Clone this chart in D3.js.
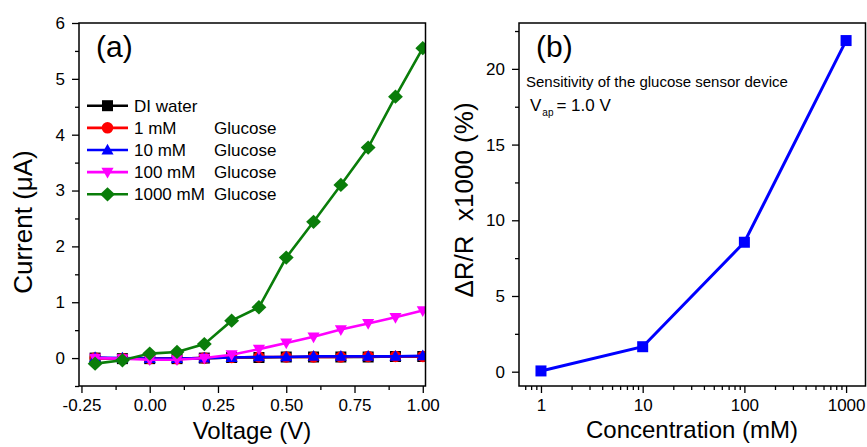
<!DOCTYPE html>
<html lang="en">
<head>
<meta charset="UTF-8" />
<title>Glucose sensor I-V and sensitivity</title>
<script src="https://d3js.org/d3.v7.min.js"></script>
<style>
    body { margin: 0; background: #fff; }
    svg { display: block; font-family: 'Liberation Sans', Arial, sans-serif; }
    .axis .domain { display: none; }
    .axis text { font-size: 17px; fill: #000; }
    .axis line { stroke: #000; stroke-width: 1.3px; }
</style>
</head>
<body>
<svg width="867" height="447"></svg>
<script>

// ---- panel (a) data : current vs voltage ----
var voltage  = [-0.2, -0.1, 0, 0.1, 0.2, 0.3, 0.4, 0.5, 0.6, 0.7, 0.8, 0.9, 1.0];
var diWater  = [0.00, -0.01, -0.01, -0.01, 0.00, 0.01, 0.01, 0.02, 0.02, 0.02, 0.02, 0.03, 0.03];
var glu1     = [0.00, -0.01, -0.01, -0.01, 0.00, 0.01, 0.02, 0.02, 0.02, 0.02, 0.03, 0.03, 0.03];
var glu10    = [0.01, 0.00, -0.01, -0.01, 0.00, 0.01, 0.02, 0.02, 0.03, 0.03, 0.03, 0.03, 0.04];
var glu100   = [0.00, -0.01, -0.03, -0.03, 0.00, 0.06, 0.16, 0.27, 0.38, 0.51, 0.62, 0.73, 0.85];
var glu1000  = [-0.10, -0.04, 0.08, 0.11, 0.25, 0.67, 0.91, 1.80, 2.44, 3.10, 3.77, 4.68, 5.55];

var seriesNames = ["DI water", "1 mM", "10 mM", "100 mM", "1000 mM"];
var seriesColors = ["#000000", "#ff0000", "#0000ff", "#ff00ff", "#0a7d0a"];
var seriesShapes = ["square", "circle", "triangle", "triangleDown", "diamond"];
var seriesValues = [diWater, glu1, glu10, glu100, glu1000];

var voltTicks = [-0.25, 0, 0.25, 0.5, 0.75, 1.0];
var currTicks = [0, 1, 2, 3, 4, 5, 6];

// ---- panel (b) data : sensitivity vs concentration ----
var concentration = [1, 10, 100, 1000];
var sensitivity   = [0.05, 1.65, 8.55, 21.87];
var concTicks = [1, 10, 100, 1000];
var sensTicks = [0, 5, 10, 15, 20];

var svg = d3.select("svg");

// plain hyphen instead of the unicode minus d3.format gives
function fmt2(d) { return d.toFixed(2); }

// shape generators
function symbolPath(shape, size) {
    var s = size;
    if (shape == "square") return "M" + (-s) + "," + (-s) + "H" + s + "V" + s + "H" + (-s) + "Z";
    if (shape == "circle") return d3.symbol().type(d3.symbolCircle).size(Math.PI * s * s * 1.1)();
    if (shape == "triangle") return "M0," + (-s * 1.15) + "L" + (s * 1.1) + "," + (s * 0.8) + "L" + (-s * 1.1) + "," + (s * 0.8) + "Z";
    if (shape == "triangleDown") return "M0," + (s * 1.15) + "L" + (s * 1.1) + "," + (-s * 0.8) + "L" + (-s * 1.1) + "," + (-s * 0.8) + "Z";
    if (shape == "diamond") return "M0," + (-s * 1.3) + "L" + (s * 1.35) + ",0L0," + (s * 1.3) + "L" + (-s * 1.35) + ",0Z";
}

// ================= panel (a) =================
var xa = d3.scaleLinear().domain([-0.259, 1.01]).range([79, 425.5]);
var ya = d3.scaleLinear().domain([-0.5, 6]).range([386, 23]);

var ga = svg.append("g");

// minor ticks
ga.append("g").attr("class", "axis")
    .attr("transform", "translate(0,386)")
    .call(d3.axisBottom(xa).tickValues([-0.125, 0.125, 0.375, 0.625, 0.875]).tickSize(4).tickFormat(""));
ga.append("g").attr("class", "axis")
    .attr("transform", "translate(79,0)")
    .call(d3.axisLeft(ya).tickValues([-0.5, 0.5, 1.5, 2.5, 3.5, 4.5, 5.5]).tickSize(4).tickFormat(""));

// major ticks
ga.append("g").attr("class", "axis")
    .attr("transform", "translate(0,386)")
    .call(d3.axisBottom(xa).tickValues(voltTicks).tickSize(7).tickPadding(6).tickFormat(fmt2));
ga.append("g").attr("class", "axis")
    .attr("transform", "translate(79,0)")
    .call(d3.axisLeft(ya).tickValues(currTicks).tickSize(7).tickPadding(7).tickFormat(d3.format("d")));

svg.append("clipPath").attr("id", "clipA")
    .append("rect").attr("x", 79).attr("y", 23).attr("width", 346.5).attr("height", 363);

var lineA = d3.line()
    .x(function(d) { return xa(d[0]); })
    .y(function(d) { return ya(d[1]); });

var plotA = ga.append("g").attr("clip-path", "url(#clipA)");
seriesValues.forEach(function(vals, i) {
    var pts = voltage.map(function(v, j) { return [v, vals[j]]; });
    plotA.append("path")
        .attr("d", lineA(pts))
        .attr("fill", "none")
        .attr("stroke", seriesColors[i])
        .attr("stroke-width", 2.6);
    plotA.selectAll(null)
        .data(pts)
        .enter().append("path")
        .attr("transform", function(d) { return "translate(" + xa(d[0]) + "," + ya(d[1]) + ")"; })
        .attr("d", symbolPath(seriesShapes[i], 5.5))
        .attr("fill", seriesColors[i]);
});

ga.append("rect")
    .attr("x", 79).attr("y", 23).attr("width", 346.5).attr("height", 363)
    .attr("fill", "none").attr("stroke", "#000").attr("stroke-width", 1.5);

// legend
var legend = ga.append("g");
seriesNames.forEach(function(name, i) {
    var ly = 105.7 + i * 22.15;
    legend.append("line")
        .attr("x1", 87).attr("x2", 128).attr("y1", ly).attr("y2", ly)
        .attr("stroke", seriesColors[i]).attr("stroke-width", 2.6);
    legend.append("path")
        .attr("transform", "translate(107.5," + ly + ")")
        .attr("d", symbolPath(seriesShapes[i], 5.5))
        .attr("fill", seriesColors[i]);
    legend.append("text")
        .attr("x", 134).attr("y", ly + 6)
        .attr("font-size", 17)
        .text(name);
    if (i > 0) {
        legend.append("text")
            .attr("x", 214).attr("y", ly + 6)
            .attr("font-size", 17)
            .text("Glucose");
    }
});

ga.append("text").attr("x", 96).attr("y", 57).attr("font-size", 30).text("(a)");

ga.append("text")
    .attr("x", 252).attr("y", 439)
    .attr("text-anchor", "middle").attr("font-size", 24)
    .text("Voltage (V)");
ga.append("text")
    .attr("transform", "translate(32,222) rotate(-90)")
    .attr("text-anchor", "middle").attr("font-size", 26)
    .text("Current (\u03bcA)");

// ================= panel (b) =================
var xb = d3.scaleLog().domain([0.608, 1552]).range([519, 865.5]);
var yb = d3.scaleLinear().domain([-0.945, 23.03]).range([386, 23]);

var gb = svg.append("g");

var minorLog = [];
[0.1, 1, 10, 100, 1000].forEach(function(dec) {
    for (var k = 2; k <= 9; k++) {
        var v = dec * k;
        if (v >= 0.608 && v <= 1552) minorLog.push(v);
    }
});

gb.append("g").attr("class", "axis")
    .attr("transform", "translate(0,386)")
    .call(d3.axisBottom(xb).tickValues(minorLog).tickSize(4).tickFormat(""));
gb.append("g").attr("class", "axis")
    .attr("transform", "translate(519,0)")
    .call(d3.axisLeft(yb).tickValues([2.5, 7.5, 12.5, 17.5, 22.5]).tickSize(4).tickFormat(""));

gb.append("g").attr("class", "axis")
    .attr("transform", "translate(0,386)")
    .call(d3.axisBottom(xb).tickValues(concTicks).tickSize(7).tickPadding(6).tickFormat(d3.format("d")));
gb.append("g").attr("class", "axis")
    .attr("transform", "translate(519,0)")
    .call(d3.axisLeft(yb).tickValues(sensTicks).tickSize(7).tickPadding(7).tickFormat(d3.format("d")));

var lineB = d3.line()
    .x(function(d) { return xb(d[0]); })
    .y(function(d) { return yb(d[1]); });
var ptsB = concentration.map(function(c, j) { return [c, sensitivity[j]]; });

gb.append("path")
    .attr("d", lineB(ptsB))
    .attr("fill", "none").attr("stroke", "#0000ff").attr("stroke-width", 3);
gb.selectAll(null)
    .data(ptsB)
    .enter().append("rect")
    .attr("x", function(d) { return xb(d[0]) - 5.5; })
    .attr("y", function(d) { return yb(d[1]) - 5.5; })
    .attr("width", 11).attr("height", 11)
    .attr("fill", "#0000ff");

gb.append("rect")
    .attr("x", 519).attr("y", 23).attr("width", 346.5).attr("height", 363)
    .attr("fill", "none").attr("stroke", "#000").attr("stroke-width", 1.5);

gb.append("text").attr("x", 536).attr("y", 57).attr("font-size", 30).text("(b)");
gb.append("text").attr("x", 526).attr("y", 87).attr("font-size", 15)
    .text("Sensitivity of the glucose sensor device");
var vap = gb.append("text").attr("x", 530).attr("y", 111).attr("font-size", 17);
vap.append("tspan").text("V");
vap.append("tspan").attr("font-size", 10).attr("dy", 5).attr("dx", 1).text("ap");
vap.append("tspan").attr("dy", -5).attr("dx", 3).text("= 1.0 V");

gb.append("text")
    .attr("x", 692).attr("y", 438)
    .attr("text-anchor", "middle").attr("font-size", 24)
    .text("Concentration (mM)");
gb.append("text")
    .attr("transform", "translate(473,200) rotate(-90)")
    .attr("text-anchor", "middle").attr("font-size", 26)
    .style("white-space", "pre")
    .text("\u0394R/R  x1000 (%)");

</script>
</body>
</html>
